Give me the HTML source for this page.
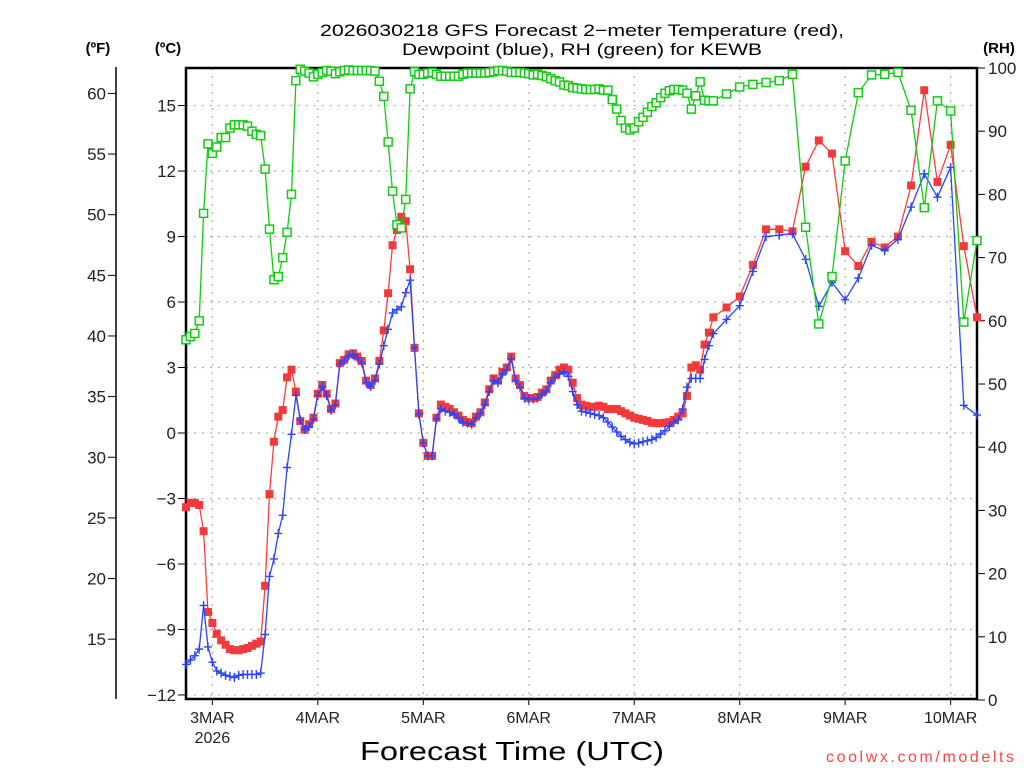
<!DOCTYPE html>
<html><head><meta charset="utf-8"><title>GFS Meteogram KEWB</title>
<style>
html,body{margin:0;padding:0;background:#fff;}
svg{display:block;font-family:"Liberation Sans",sans-serif;}
</style></head>
<body>
<svg id="chart" xmlns="http://www.w3.org/2000/svg" width="1024" height="768" viewBox="0 0 1024 768">
  <rect x="0" y="0" width="1024" height="768" fill="#fff"/>
  <g id="grid"></g>
  <g id="axes"></g>
  <g id="series"></g>
  <text x="582" y="36" text-anchor="middle" font-size="17" textLength="524" lengthAdjust="spacingAndGlyphs">2026030218 GFS Forecast 2−meter Temperature (red),</text>
  <text x="582" y="55" text-anchor="middle" font-size="17" textLength="360" lengthAdjust="spacingAndGlyphs">Dewpoint (blue), RH (green) for KEWB</text>
  <text x="98" y="53" text-anchor="middle" font-size="15" font-weight="bold">(ºF)</text>
  <text x="168" y="53" text-anchor="middle" font-size="15" font-weight="bold">(ºC)</text>
  <text x="999" y="53" text-anchor="middle" font-size="15" font-weight="bold">(RH)</text>
  <text x="512" y="760" text-anchor="middle" font-size="26" textLength="304" lengthAdjust="spacingAndGlyphs">Forecast Time (UTC)</text>
  <text x="920" y="762" text-anchor="middle" font-size="16" fill="#ff4444" textLength="188" lengthAdjust="spacing">coolwx.com/modelts</text>
</svg>
<script>
// forecast hours: hourly 0..120, then 3-hourly 123..180
const hours = [0,1,2,3,4,5,6,7,8,9,10,11,12,13,14,15,16,17,18,19,20,21,22,23,24,25,26,27,28,29,30,31,32,33,34,35,36,37,38,39,40,41,42,43,44,45,46,47,48,49,50,51,52,53,54,55,56,57,58,59,60,61,62,63,64,65,66,67,68,69,70,71,72,73,74,75,76,77,78,79,80,81,82,83,84,85,86,87,88,89,90,91,92,93,94,95,96,97,98,99,100,101,102,103,104,105,106,107,108,109,110,111,112,113,114,115,116,117,118,119,120,123,126,129,132,135,138,141,144,147,150,153,156,159,162,165,168,171,174,177,180];
const tempC = [-3.4,-3.2,-3.2,-3.3,-4.5,-8.2,-8.7,-9.2,-9.5,-9.7,
-9.9,-9.95,-9.95,-9.9,-9.85,-9.75,-9.65,-9.55,-7.0,-2.8,
-0.4,0.75,1.05,2.55,2.9,1.9,0.55,0.15,0.4,0.7,
1.8,2.2,1.8,1.1,1.35,3.2,3.35,3.6,3.65,3.5,
3.3,2.4,2.2,2.5,3.3,4.7,6.4,8.6,9.3,9.9,
9.7,7.5,3.9,0.9,-0.45,-1.05,-1.05,0.7,1.3,1.2,
1.1,0.95,0.8,0.6,0.5,0.45,0.75,0.95,1.4,2.0,
2.5,2.4,2.8,3.0,3.5,2.5,2.2,1.7,1.6,1.6,
1.65,1.85,2.0,2.4,2.65,2.9,3.0,2.9,2.3,1.6,
1.3,1.25,1.2,1.2,1.25,1.2,1.1,1.1,1.1,1.0,
0.9,0.8,0.7,0.65,0.6,0.55,0.47,0.45,0.45,0.47,
0.5,0.6,0.75,0.9,1.7,3.0,3.1,2.9,4.05,4.6,
5.3,
5.75,6.25,7.7,9.33,9.33,9.24,12.2,13.4,12.8,8.33,7.65,8.76,8.5,9.0,11.34,15.7,11.5,13.2,8.56,5.3];
const dewpC = [-10.6,-10.4,-10.2,-9.9,-7.9,-9.8,-10.5,-10.9,-11.0,-11.1,
-11.15,-11.2,-11.1,-11.06,-11.06,-11.06,-11.06,-11.0,-9.23,-6.57,
-5.77,-4.6,-3.77,-1.58,-0.06,1.72,0.6,0.16,0.29,0.63,
1.72,2.13,1.72,1.04,1.29,3.16,3.3,3.53,3.59,3.44,
3.21,2.31,2.13,2.41,3.16,4.0,4.75,5.5,5.65,5.78,
6.43,7.0,3.9,0.86,-0.46,-1.05,-1.05,0.64,1.1,1.0,
0.95,0.86,0.7,0.5,0.45,0.4,0.7,0.9,1.3,1.9,
2.4,2.3,2.7,2.9,3.4,2.4,2.1,1.6,1.55,1.55,
1.6,1.78,1.93,2.3,2.55,2.7,2.8,2.6,1.9,1.3,
1.0,0.96,0.9,0.85,0.8,0.7,0.5,0.27,0.05,-0.15,
-0.3,-0.42,-0.5,-0.46,-0.4,-0.36,-0.3,-0.2,-0.05,0.1,
0.3,0.5,0.6,1.1,2.1,2.5,2.5,2.5,3.37,4.0,
4.55,
5.2,5.83,7.4,9.0,9.06,9.14,7.95,5.8,6.9,6.1,7.1,8.6,8.35,8.87,10.35,11.87,10.8,12.17,1.27,0.82];
const rh = [57,57.5,58,60,77,88,86.5,87.5,89,89,
90.5,91,91,91,90.8,90,89.5,89.3,84,74.5,
66.5,67,70,74,80,98,99.8,99.5,99.2,98.6,
99,99.3,99.6,99.5,99.1,99.4,99.6,99.7,99.6,99.6,
99.6,99.6,99.6,99.5,97.9,95.5,88.3,80.5,75.2,74.7,
79.2,96.7,99.4,99,99,99.2,99.3,99,98.7,98.7,
98.7,98.7,98.7,99,99.2,99.2,99.2,99.2,99.2,99.3,
99.4,99.6,99.6,99.5,99.3,99.3,99.3,99.2,99.1,98.9,
99,98.8,98.6,98.3,98,97.8,97.3,97.2,96.9,96.8,
96.7,96.6,96.6,96.6,96.7,96.5,96.5,95,93.5,91.7,
90.5,90.2,90.5,91.5,92.2,93,93.9,94.5,95.3,96,
96.4,96.6,96.6,96.5,96,93.5,95.6,97.8,94.9,94.8,
94.8,
95.9,97.0,97.4,97.7,98.0,99.0,74.8,59.5,67.0,85.3,96.1,98.9,99.0,99.3,93.3,77.9,94.8,93.2,59.8,72.7];
const cTicks = [-12,-9,-6,-3,0,3,6,9,12,15];
const cTickLabels = ["−12","−9","−6","−3","0","3","6","9","12","15"];
const fTicks = [15,20,25,30,35,40,45,50,55,60];
const rhTicks = [0,10,20,30,40,50,60,70,80,90,100];
const dayHours = [6,30,54,78,102,126,150,174];
const dayLabels = ["3MAR","4MAR","5MAR","6MAR","7MAR","8MAR","9MAR","10MAR"];

const NS = "http://www.w3.org/2000/svg";
const L = 186, R = 977, T = 68, B = 699;
const xScale = h => L + (h / 180) * (R - L);
const yC = c => 433 - c * 21.83;
const yF = f => yC((f - 32) / 1.8);
const yRH = r => 700 - r * 6.32;

function mk(tag, attrs, parent) {
  const e = document.createElementNS(NS, tag);
  for (const k in attrs) e.setAttribute(k, attrs[k]);
  parent.appendChild(e);
  return e;
}
const grid = document.getElementById('grid');
const axes = document.getElementById('axes');
const series = document.getElementById('series');

// gridlines
cTicks.forEach(c => {
  const g = mk('line', {x1: L, x2: R, y1: yC(c), y2: yC(c), stroke: '#aaa', 'stroke-width': 1.2, 'stroke-dasharray': '2,6'}, grid);
  
  
});
dayHours.forEach(h => {
  const g = mk('line', {x1: xScale(h), x2: xScale(h), y1: T, y2: B, stroke: '#aaa', 'stroke-width': 1.2, 'stroke-dasharray': '2,6'}, grid);
  
  
});

// frame
const fr = mk('rect', {x: L, y: T, width: R - L, height: B - T, fill: 'none', stroke: '#000', 'stroke-width': 2.5}, axes);



// celsius axis
cTicks.forEach((c, i) => {
  const tk = mk('line', {x1: L - 8, x2: L, y1: yC(c), y2: yC(c), stroke: '#000', 'stroke-width': 1}, axes);
  
  
  const t = mk('text', {x: L - 10, y: yC(c) + 6, 'text-anchor': 'end', 'font-size': 17, fill: '#222'}, axes);
  t.textContent = cTickLabels[i];
  
  
});
// fahrenheit axis
const fl = mk('line', {x1: 116, x2: 116, y1: 67, y2: 699, stroke: '#000', 'stroke-width': 1.5}, axes);


fTicks.forEach(f => {
  const tk = mk('line', {x1: 108, x2: 116, y1: yF(f), y2: yF(f), stroke: '#000', 'stroke-width': 1}, axes);
  
  
  const t = mk('text', {x: 106, y: yF(f) + 6, 'text-anchor': 'end', 'font-size': 17, fill: '#222'}, axes);
  t.textContent = String(f);
  
  
});
// RH axis
rhTicks.forEach(r => {
  const tk = mk('line', {x1: R, x2: R + 8, y1: yRH(r), y2: yRH(r), stroke: '#000', 'stroke-width': 1}, axes);
  
  
  const t = mk('text', {x: R + 11, y: yRH(r) + 6, 'text-anchor': 'start', 'font-size': 17, fill: '#222'}, axes);
  t.textContent = String(r);
  
  
});
// x axis
dayHours.forEach((h, i) => {
  const tk = mk('line', {x1: xScale(h), x2: xScale(h), y1: B, y2: B + 6, stroke: '#000', 'stroke-width': 1}, axes);
  
  
  const t = mk('text', {x: xScale(h), y: 723, 'text-anchor': 'middle', 'font-size': 16, fill: '#222'}, axes);
  t.textContent = dayLabels[i];
  
  
});
const yr = mk('text', {x: xScale(6), y: 743, 'text-anchor': 'middle', 'font-size': 16, fill: '#222'}, axes);
yr.textContent = '2026';



function poly(vals, yfn, color, name) {
  const pts = hours.map((h, i) => xScale(h).toFixed(1) + ',' + yfn(vals[i]).toFixed(1)).join(' ');
  const p = mk('polyline', {points: pts, fill: 'none', stroke: color, 'stroke-width': 1.3}, series);
  
  
}

// temperature
poly(tempC, yC, '#ff3b3b', 'temperature-line');
hours.forEach((h, i) => {
  const m = mk('rect', {x: xScale(h) - 4, y: yC(tempC[i]) - 4, width: 8, height: 8, fill: '#f23a3a'}, series);
  
  
});
// dewpoint
poly(dewpC, yC, '#2a44ff', 'dewpoint-line');
hours.forEach((h, i) => {
  const x = xScale(h), y = yC(dewpC[i]);
  const m = mk('path', {d: `M${x-4},${y}H${x+4}M${x},${y-4.5}V${y+4.5}`, stroke: '#2a44ff', 'stroke-width': 1.4, fill: 'none'}, series);
  
  
});
// RH
poly(rh, yRH, '#11cc11', 'rh-line');
hours.forEach((h, i) => {
  const m = mk('rect', {x: xScale(h) - 4, y: yRH(rh[i]) - 4, width: 8, height: 8, fill: '#fff', stroke: '#11cc11', 'stroke-width': 1.5}, series);
  
  
});
</script>
</body></html>
